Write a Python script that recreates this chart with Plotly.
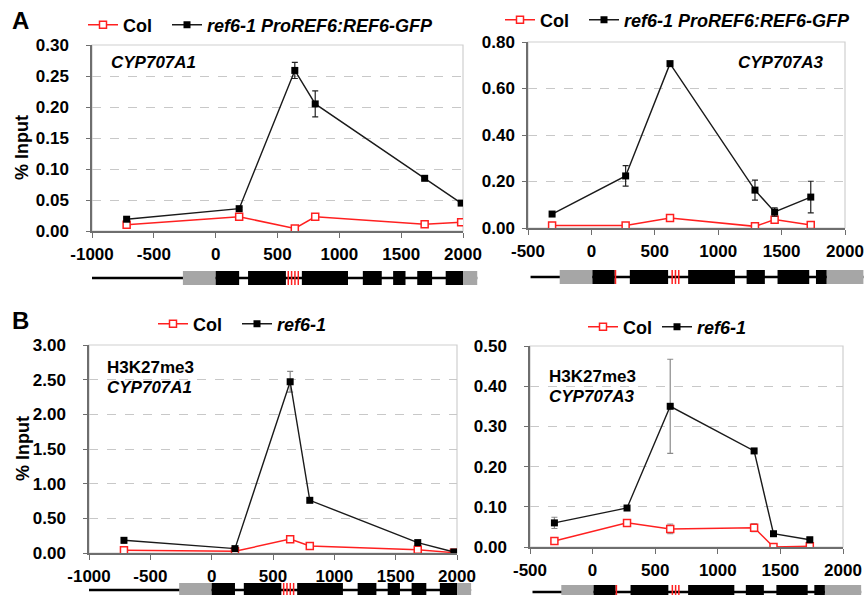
import plotly.graph_objects as go

W, H = 864, 595

# ---------------- data ----------------
a1_x = [-720, 190, 640, 805, 1690, 1985]
a1_col = [0.010, 0.023, 0.004, 0.023, 0.011, 0.014]
a1_ref = [0.019, 0.036, 0.259, 0.205, 0.085, 0.045]
a1_ref_err = [0.002, 0.002, 0.013, 0.021, 0.002, 0.002]

a3_x = [-310, 270, 620, 1290, 1445, 1730]
a3_col = [0.011, 0.011, 0.043, 0.007, 0.036, 0.013]
a3_ref = [0.060, 0.224, 0.707, 0.163, 0.069, 0.133]
a3_ref_err = [0.005, 0.044, 0.006, 0.043, 0.018, 0.068]

b1_x = [-715, 190, 640, 800, 1680, 1975]
b1_col = [0.040, 0.025, 0.200, 0.100, 0.048, 0.005]
b1_ref = [0.183, 0.063, 2.47, 0.76, 0.150, 0.015]
b1_ref_err = [0.04, 0.01, 0.15, 0.02, 0.02, 0.01]

b3_x = [-305, 275, 620, 1290, 1445, 1735]
b3_col = [0.015, 0.060, 0.045, 0.048, 0.000, 0.002]
b3_col_err = [0.003, 0.008, 0.012, 0.010, 0.001, 0.002]
b3_ref = [0.060, 0.097, 0.350, 0.239, 0.033, 0.018]
b3_ref_err = [0.014, 0.004, 0.117, 0.003, 0.005, 0.006]

# x tick labels (hyphen minus as in the original)
x_ticks_a1 = [-1000, -500, 0, 500, 1000, 1500, 2000]
x_ticks_a3 = [-500, 0, 500, 1000, 1500, 2000]

# gene structures (bp relative to ATG)
a1_promoter = [-1000, -265]
a1_utrs = [[-265, 0], [2000, 2115]]
a1_exons = [[0, 190], [262, 568], [697, 1070], [1190, 1343], [1435, 1535], [1630, 1750], [1860, 2000]]
a1_motifs = [587, 614, 641, 668]

a3_promoter = [-480, -250]
a3_utrs = [[-250, 8], [1855, 2145]]
a3_exons = [[8, 184], [303, 605], [763, 1132], [1224, 1368], [1468, 1718], [1771, 1855]]
a3_motifs = [190, 637, 663, 689]

FONT = "Liberation Sans, Arial, sans-serif"
RED = "#ff2020"

fig = go.Figure()


def px_x(p):
    return p / W


def px_y(p):
    return 1 - p / H


panels = {
    "A1": dict(l=92, r=463, t=45, b=231, xr=[-1000, 2000], xt=x_ticks_a1, yr=[0, 0.30], dy=0.05, sl=14),
    "A3": dict(l=528, r=845, t=42, b=228, xr=[-500, 2000], xt=x_ticks_a3, yr=[0, 0.80], dy=0.20, sl=4),
    "B1": dict(l=89, r=457, t=345, b=553, xr=[-1000, 2000], xt=x_ticks_a1, yr=[0, 3.0], dy=0.50, sl=14),
    "B3": dict(l=530, r=843, t=346, b=547, xr=[-500, 2000], xt=x_ticks_a3, yr=[0, 0.50], dy=0.10, sl=14),
}
order = ["A1", "A3", "B1", "B3"]

for i, key in enumerate(order, start=1):
    p = panels[key]
    sfx = "" if i == 1 else str(i)
    fig.layout["xaxis" + sfx] = dict(
        domain=[px_x(p["l"]), px_x(p["r"])], range=p["xr"],
        tickvals=p["xt"], ticktext=[str(v) for v in p["xt"]],
        anchor="y" + sfx, showgrid=False, zeroline=False, automargin=False,
        showline=True, linecolor="#6e6e6e", linewidth=1.5,
        ticks="outside", ticklen=5, tickcolor="#6e6e6e",
        tickfont=dict(family=FONT, size=17, color="black", weight="bold"),
        ticklabelstandoff=2,
    )
    fig.layout["yaxis" + sfx] = dict(
        domain=[px_y(p["b"]), px_y(p["t"])], range=p["yr"], dtick=p["dy"],
        anchor="x" + sfx, tickformat=".2f", automargin=False,
        showgrid=True, gridcolor="#c8c8c8", griddash="dash", gridwidth=1,
        zeroline=False, showline=True, linecolor="#6e6e6e", linewidth=1.5,
        ticks="outside", ticklen=4, tickcolor="#6e6e6e",
        tickfont=dict(family=FONT, size=17, color="black", weight="bold"),
        ticklabelstandoff=p["sl"],
    )
    fig.add_shape(type="rect", xref="x" + sfx + " domain", yref="y" + sfx + " domain",
                  x0=0, x1=1, y0=0, y1=1, line=dict(color="#cfcfcf", width=1.2), layer="below")


def add_series(key, xs, col, ref, ref_err, col_err, ref_name, legend, errcolor):
    i = order.index(key) + 1
    sfx = "" if i == 1 else str(i)
    fig.add_trace(go.Scatter(
        x=xs, y=col, name="Col", mode="lines+markers", legend=legend,
        xaxis="x" + sfx, yaxis="y" + sfx,
        line=dict(color=RED, width=1.5),
        marker=dict(symbol="square", size=7, color="white", line=dict(color=RED, width=1.5)),
        error_y=dict(type="data", array=col_err, color="#8a8a8a", thickness=1, width=3,
                     visible=col_err is not None),
    ))
    fig.add_trace(go.Scatter(
        x=xs, y=ref, name=ref_name, mode="lines+markers", legend=legend,
        xaxis="x" + sfx, yaxis="y" + sfx,
        line=dict(color="#1a1a1a", width=1.4),
        marker=dict(symbol="square", size=7, color="black"),
        error_y=dict(type="data", array=ref_err, color=errcolor, thickness=1.2, width=3),
    ))


add_series("A1", a1_x, a1_col, a1_ref, a1_ref_err, None,
           "<i>ref6-1 ProREF6:REF6-GFP</i>", "legend", "#222222")
add_series("A3", a3_x, a3_col, a3_ref, a3_ref_err, None,
           "<i>ref6-1 ProREF6:REF6-GFP</i>", "legend2", "#222222")
add_series("B1", b1_x, b1_col, b1_ref, b1_ref_err, None,
           "<i>ref6-1</i>", "legend3", "#8a8a8a")
add_series("B3", b3_x, b3_col, b3_ref, b3_ref_err, b3_col_err,
           "<i>ref6-1</i>", "legend4", "#8a8a8a")

# ---------------- gene diagrams ----------------
diagrams = [
    ("A1", 271, 285, [-1, 1], 480, a1_promoter, a1_utrs, a1_exons, a1_motifs),
    ("A3", 270, 284, [-1, 1], 864, a3_promoter, a3_utrs, a3_exons, a3_motifs),
    ("B1", 583, 595, [-0.714, 1], 480, a1_promoter, a1_utrs, a1_exons, a1_motifs),
    ("B3", 585, 595, [-0.43, 1], 864, a3_promoter, a3_utrs, a3_exons, a3_motifs),
]


def boxes(intervals):
    xs, ys = [], []
    for a, b in intervals:
        xs += [a, b, b, a, a, None]
        ys += [-1, -1, 1, 1, -1, None]
    return xs, ys


for j, (key, top, bot, yr, rend, prom, utrs, exons, motifs) in enumerate(diagrams, start=5):
    p = panels[key]
    scale = (p["xr"][1] - p["xr"][0]) / (p["r"] - p["l"])
    xr = [p["xr"][0], p["xr"][0] + (rend - p["l"]) * scale]
    sfx = str(j)
    fig.layout["xaxis" + sfx] = dict(domain=[px_x(p["l"]), px_x(rend)], range=xr,
                                     visible=False, anchor="y" + sfx, automargin=False)
    fig.layout["yaxis" + sfx] = dict(domain=[px_y(bot), px_y(top)], range=yr,
                                     visible=False, anchor="x" + sfx, automargin=False)
    gene_start = prom[0]
    gene_end = max(b for a, b in utrs)
    fig.add_trace(go.Scatter(x=[gene_start, gene_end], y=[0, 0], mode="lines",
                             line=dict(color="black", width=2.5), showlegend=False,
                             xaxis="x" + sfx, yaxis="y" + sfx, hoverinfo="skip"))
    ux, uy = boxes(utrs)
    fig.add_trace(go.Scatter(x=ux, y=uy, mode="lines", fill="toself", fillcolor="#a6a6a6",
                             line=dict(width=0, color="#a6a6a6"), showlegend=False,
                             xaxis="x" + sfx, yaxis="y" + sfx, hoverinfo="skip"))
    ex, ey = boxes(exons)
    fig.add_trace(go.Scatter(x=ex, y=ey, mode="lines", fill="toself", fillcolor="black",
                             line=dict(width=0, color="black"), showlegend=False,
                             xaxis="x" + sfx, yaxis="y" + sfx, hoverinfo="skip"))
    mx, my = [], []
    for m in motifs:
        mx += [m, m, None]
        my += [-1, 1, None]
    fig.add_trace(go.Scatter(x=mx, y=my, mode="lines", line=dict(color=RED, width=1.5),
                             showlegend=False, xaxis="x" + sfx, yaxis="y" + sfx,
                             hoverinfo="skip"))

# ---------------- legends ----------------
leg_font = dict(family=FONT, size=18, color="black", weight="bold")
NB = "\u00a0"
fig.data[0].name = "Col" + NB * 2
fig.data[2].name = "Col" + NB * 2
fig.data[4].name = "Col" + NB * 2


def legend_cfg(xpx, ypx):
    return dict(orientation="h", x=px_x(xpx), y=px_y(ypx), xanchor="left", yanchor="middle",
                font=leg_font, bgcolor="rgba(0,0,0,0)", borderwidth=0, itemwidth=30,
                tracegroupgap=0)


fig.update_layout(
    legend=legend_cfg(83, 25),
    legend2=legend_cfg(500, 20),
    legend3=legend_cfg(153, 324),
    legend4=legend_cfg(583, 327),
)

# ---------------- annotations ----------------
ann = []


def text(xpx, ypx, s, size=17, xanchor="left", angle=0, italic=False, weight="bold"):
    ann.append(dict(x=px_x(xpx), y=px_y(ypx), xref="paper", yref="paper", text=s,
                    showarrow=False, xanchor=xanchor, yanchor="middle", textangle=angle,
                    font=dict(family=FONT, size=size, color="black", weight=weight,
                              style="italic" if italic else "normal")))


text(10, 21, "A", size=24)
text(10, 320, "B", size=24)
text(22, 148, "% Input", size=18, xanchor="center", angle=-90)
text(23, 449, "% Input", size=18, xanchor="center", angle=-90)
text(109, 63, "CYP707A1", italic=True)
text(736, 63, "CYP707A3", italic=True)
text(105, 367, "H3K27me3")
text(105, 387, "CYP707A1", italic=True)
text(547, 376, "H3K27me3")
text(547, 396, "CYP707A3", italic=True)

fig.update_layout(
    width=W, height=H, margin=dict(l=0, r=0, t=0, b=0, pad=0, autoexpand=False),
    paper_bgcolor="white", plot_bgcolor="white",
    annotations=ann, font=dict(family=FONT, color="black"),
)

fig.write_html("out.html", config={"displayModeBar": False},
               post_script="document.body.style.margin='0px';document.body.style.overflow='hidden';")
